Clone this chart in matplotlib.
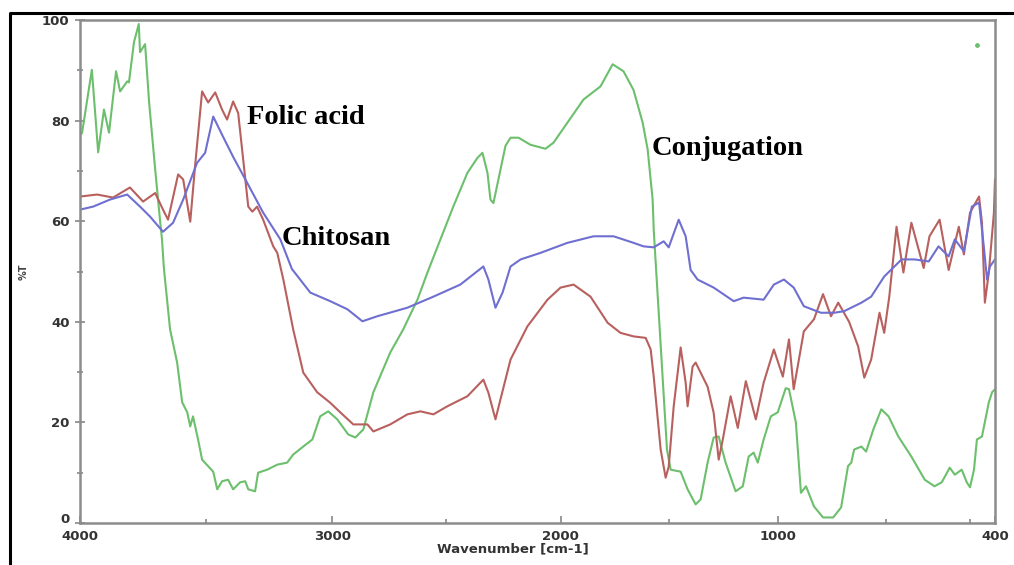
import numpy as np
import matplotlib
matplotlib.use('Agg')
import matplotlib.pyplot as plt

# FTIR spectra: chitosan, folic acid and the conjugate (%T vs wavenumber)

chitosan_wn = [4000, 3948, 3881, 3813, 3762, 3722, 3671, 3631, 3591, 3536, 3504, 3472,
               3433, 3393, 3337, 3274, 3206, 3160, 3087, 3008, 2934, 2868, 2803, 2671,
               2557, 2439, 2338, 2316, 2285, 2254, 2219, 2175, 2088, 1968, 1848, 1756,
               1664, 1618, 1571, 1525, 1502, 1456, 1424, 1401, 1369, 1295, 1203, 1157,
               1065, 1018, 983, 956, 928, 881, 844, 817, 769, 742, 706, 658, 622, 583,
               556, 528, 511, 486, 464, 444, 431, 422, 414, 400]
chitosan_t = [62.3, 62.9, 64.3, 65.3, 62.9, 60.9, 57.9, 59.7, 64.3, 71.6, 73.6, 80.8,
              76.8, 72.8, 67.6, 61.7, 56.4, 50.5, 45.8, 44.1, 42.5, 40.1, 41.1, 42.8,
              45.0, 47.4, 51.0, 48.4, 42.8, 45.8, 51.0, 52.4, 53.7, 55.7, 57.0, 57.0,
              55.7, 55.0, 54.8, 56.0, 54.8, 60.3, 57.0, 50.3, 48.4, 46.8, 44.1, 44.8,
              44.4, 47.4, 48.4, 46.8, 43.1, 41.8, 41.8, 42.1, 43.8, 45.0, 49.0, 52.4, 52.4, 52.0,
              55.0, 53.0, 56.4, 54.0, 62.9, 63.7, 55.0, 48.4, 51.0, 52.4]

folic_wn = [4000, 3932, 3869, 3802, 3750, 3702, 3671, 3651, 3611, 3591, 3563, 3544,
            3516, 3492, 3464, 3437, 3417, 3393, 3373, 3353, 3333, 3317, 3298, 3274,
            3234, 3218, 3194, 3155, 3115, 3060, 3008, 2965, 2908, 2846, 2820, 2746,
            2671, 2614, 2557, 2496, 2408, 2338, 2316, 2285, 2263, 2219, 2145, 2057,
            2000, 1940, 1862, 1783, 1724, 1664, 1608, 1585, 1571, 1539, 1516, 1502,
            1479, 1447, 1424, 1415, 1392, 1378, 1323, 1295, 1272, 1253, 1217, 1184,
            1147, 1101, 1065, 1018, 986, 969, 956, 928, 900, 875, 853, 833, 803, 778,
            761, 742, 719, 706, 692, 672, 653, 631, 597, 581, 553, 528, 500, 486, 469,
            444, 436, 428, 417, 403, 400]
folic_t = [64.9, 65.3, 64.7, 66.7, 63.9, 65.6, 62.3, 60.3, 69.3, 68.3, 59.9, 70.9,
           85.8, 83.6, 85.6, 82.2, 80.2, 83.8, 81.5, 72.2, 62.9, 61.9, 62.9, 60.3,
           55.0, 53.7, 48.4, 38.5, 29.9, 26.0, 23.9, 22.0, 19.6, 19.6, 18.2, 19.6,
           21.6, 22.2, 21.6, 23.2, 25.2, 28.5, 25.9, 20.6, 24.6, 32.5, 39.1, 44.4,
           46.8, 47.4, 45.0, 39.8, 37.8, 37.1, 36.8, 34.5, 29.1, 14.6, 9.0, 11.2,
           23.2, 34.9, 27.9, 23.2, 31.1, 31.9, 27.1, 21.9, 12.6, 16.6, 25.2, 18.9,
           28.2, 20.6, 27.9, 34.5, 29.1, 36.5, 26.6, 38.1, 40.5, 45.5, 41.1, 43.8, 40.0, 35.1,
           28.9, 32.5, 41.8, 37.8, 45.0, 58.9, 49.8, 59.7, 50.7, 57.0, 60.3, 50.3, 58.9, 53.4, 61.7,
           64.9, 59.7, 43.8, 49.8, 61.7, 68.3]

conj_wn = [4000, 3992, 3953, 3928, 3905, 3885, 3857, 3841, 3813, 3806, 3786, 3767,
           3762, 3742, 3726, 3702, 3683, 3675, 3668, 3663, 3643, 3615, 3595, 3575,
           3563, 3552, 3532, 3516, 3472, 3456, 3437, 3413, 3393, 3365, 3345, 3333,
           3306, 3294, 3258, 3218, 3179, 3155, 3115, 3079, 3048, 3016, 2978, 2930,
           2899, 2864, 2820, 2746, 2689, 2627, 2583, 2526, 2469, 2408, 2364, 2342,
           2320, 2307, 2294, 2272, 2241, 2219, 2184, 2132, 2066, 2031, 1968, 1894,
           1816, 1760, 1710, 1664, 1622, 1599, 1585, 1576, 1571, 1548, 1525, 1510,
           1493, 1447, 1415, 1378, 1355, 1323, 1295, 1272, 1240, 1194, 1161, 1134,
           1111, 1092, 1065, 1032, 1000, 978, 969, 950, 936, 922, 900, 875, 847, 825,
           806, 797, 789, 769, 756, 736, 714, 694, 667, 631, 594, 567, 547, 525, 511,
           492, 478, 469, 458, 450, 436, 417, 408, 400]
conj_t = [77.2, 77.5, 90.1, 73.7, 82.2, 77.6, 89.8, 85.8, 87.8, 87.6, 95.6, 99.2,
          93.6, 95.2, 83.6, 70.3, 60.3, 56.4, 51.0, 48.4, 38.5, 31.9, 24.0, 22.0,
          19.2, 21.2, 16.6, 12.6, 10.2, 6.7, 8.3, 8.6, 6.7, 8.1, 8.3, 6.7,
          6.3, 10.0, 10.6, 11.6, 12.0, 13.6, 15.2, 16.6, 21.2, 22.2, 20.6, 17.6,
          17.0, 18.6, 26.0, 33.9, 38.5, 44.4, 49.8, 56.4, 63.0, 69.6, 72.6, 73.6,
          69.6, 64.3, 63.6, 68.3, 75.0, 76.6, 76.6, 75.2, 74.4, 75.6, 79.6, 84.2,
          86.8, 91.2, 89.8, 86.1, 79.6, 74.3, 68.3, 64.3, 58.3, 41.8, 25.2, 14.6,
          10.6, 10.2, 6.7, 3.7, 4.7, 12.0, 17.0, 17.2, 12.0, 6.3, 7.3, 13.2,
          14.0, 12.0, 16.6, 21.2, 22.0, 26.8, 26.6, 20.0, 6.0, 7.3, 3.3, 1.1, 1.1, 3.1,
          11.3, 12.0, 14.6, 15.2, 14.2, 18.6, 22.6, 21.2, 17.2, 13.2, 8.6, 7.3, 8.1, 11.0, 9.6,
          10.6, 8.1, 7.1, 10.6, 16.6, 17.2, 24.0, 26.0, 26.6]

# stray point near the top right corner
dot_wn = [450]
dot_t = [95.1]

x_major = [4000, 3000, 2000, 1000, 400]
x_minor = [3500, 2500, 1500, 700, 470]
y_major = [0, 20, 40, 60, 80, 100]
y_minor = [10, 30, 50, 70, 90]

# the wavenumber axis is stretched differently in each 1000 cm-1 block
wn_knots = [0, 400, 1000, 2000, 3000, 4000, 8000]
pos_knots = [-144.7, 0, 217, 434, 662, 914, 1922]


def fwd(w):
    return np.interp(w, wn_knots, pos_knots)


def inv(p):
    return np.interp(p, pos_knots, wn_knots)


W, H = 1014, 565
fig = plt.figure(figsize=(W / 100, H / 100), dpi=100)
ax = fig.add_axes([80 / W, (H - 523) / H, 915 / W, 503 / H])

ax.set_xscale('function', functions=(fwd, inv))

ax.plot(conj_wn, conj_t, color='#6cbf6c', lw=1.5)
ax.plot(folic_wn, folic_t, color='#b8605e', lw=1.5)
ax.plot(chitosan_wn, chitosan_t, color='#6f6fd2', lw=1.5)
ax.scatter(dot_wn, dot_t, s=6, color='#6cbf6c', zorder=3)

ax.set_xlim(4000, 400)
ax.set_ylim(0, 100)

ax.set_xticks(x_major)
ax.set_xticks(x_minor, minor=True)
ax.set_yticks(y_major)
ax.set_yticks(y_minor, minor=True)

tick_font = dict(fontsize=9.5, fontweight='bold', color='#333333')
ax.set_xticklabels([str(v) for v in x_major], **tick_font)
ax.set_yticklabels([str(v) for v in y_major], **tick_font)
ax.tick_params(axis='x', which='major', direction='in', length=5, width=1.2,
               color='#888888', pad=5)
ax.tick_params(axis='x', which='minor', direction='in', length=3, width=1.2,
               color='#888888')
ax.tick_params(axis='y', which='major', direction='inout', length=7, width=1.2,
               color='#888888', pad=4)
ax.tick_params(axis='y', which='minor', direction='inout', length=4, width=1.2,
               color='#888888')
# keep the "0" sitting on the baseline so it stays clear of "4000"
ax.get_yticklabels()[0].set_va('baseline')

for sp in ax.spines.values():
    sp.set_color('#8c8c8c')
    sp.set_linewidth(1.8)

# axis titles
fig.text(24 / W, 1 - 272 / H, '%T', rotation=90, ha='center', va='center',
         fontsize=7, fontweight='bold', color='#444444')
fig.text(513 / W, 1 - 549 / H, 'Wavenumber [cm-1]', ha='center', va='center',
         fontsize=9.5, fontweight='bold', color='#333333')

# sample labels
lab_font = dict(family='Liberation Serif', fontsize=20.5, fontweight='bold',
                color='black', va='baseline', ha='left')
fig.text(247 / W, 1 - 124 / H, 'Folic acid', **lab_font)
fig.text(282 / W, 1 - 245 / H, 'Chitosan', **lab_font)
fig.text(652 / W, 1 - 155 / H, 'Conjugation', **lab_font)

# outer frame (top and left edges)
fig.add_artist(plt.Line2D([10 / W, 10 / W, 1.0], [0.0, 1 - 13 / H, 1 - 13 / H],
                          transform=fig.transFigure, color='black', lw=2.2))

fig.savefig('out.png', dpi=100)
